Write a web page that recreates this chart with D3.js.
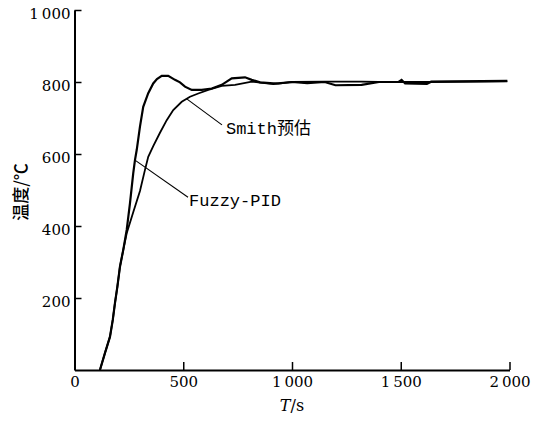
<!DOCTYPE html>
<html>
<head>
<meta charset="utf-8">
<script src="https://cdn.jsdelivr.net/npm/d3@7"></script>
<style>
  body { margin: 0; background: #fff; }
  #chart { width: 545px; height: 421px; }
</style>
</head>
<body>
<div id="chart"></div>
<script>

// time (s) / temperature (°C)
var fuzzyT = [117,140,163,176,186,197,209,224,240,255,270,278,286,301,316,339,362,379,401,431,462,485,508,539,585,631,677,723,784,815,853,914,937,1000,1070,1150,1200,1320,1400,1490,1504,1520,1620,1640,1990];
var fuzzyY = [0,47,92,139,186,231,287,333,389,463,546,583,611,676,731,769,796,808,817,817,806,799,787,778,778,782,792,810,813,806,799,796,796,800,797,800,791,792,800,800,806,796,795,801,803];

var smithT = [117,140,163,176,186,197,209,224,240,270,301,324,339,362,393,424,454,493,531,569,615,677,738,815,914,1000,1150,1320,1400,1500,1620,1990];
var smithY = [0,47,92,139,186,231,287,333,380,438,497,556,592,622,659,694,722,745,759,768,778,789,792,801,794,800,801,801,800,800,800,802];

var xTicks  = [0,500,1000,1500,2000];
var xLabels = ["0","500","1\u2009000","1\u2009500","2\u2009000"];
var yTicks  = [200,400,600,800,1000];
var yLabels = ["200","400","600","800","1\u2009000"];

// annotation: [curve point t, T, label t, T]
var fuzzyNote = [278,583,522,480];
var smithNote = [516,753,678,681];


var width  = 545;
var height = 421;

var x = d3.scaleLinear().domain([0,2000]).range([74.5,509.5]);
var y = d3.scaleLinear().domain([0,1000]).range([370,10]);

var svg = d3.select("#chart")
  .append("svg")
    .attr("width",width)
    .attr("height",height);

svg.append("rect")
  .attr("width",width)
  .attr("height",height)
  .attr("fill","#fff");

//......................... Axes ..............................
var xAxis = d3.axisBottom(x)
  .tickValues(xTicks)
  .tickSize(-8)
  .tickSizeOuter(0)
  .tickPadding(6)
  .tickFormat(function(d,i){return xLabels[i]});

var yAxis = d3.axisLeft(y)
  .tickValues(yTicks)
  .tickSize(-7)
  .tickSizeOuter(0)
  .tickPadding(4)
  .tickFormat(function(d,i){return yLabels[i]});

var gx = svg.append("g")
  .attr("transform","translate(0,"+y(0)+")")
  .call(xAxis);

var gy = svg.append("g")
  .attr("transform","translate("+x(0)+",0)")
  .call(yAxis);

[gx,gy].forEach(function(g){
  g.select(".domain").attr("stroke","#000").attr("stroke-width",2);
  g.selectAll(".tick line").attr("stroke","#000").attr("stroke-width",1.5);
  g.selectAll(".tick text")
    .attr("fill","#000")
    .style("font-family","'DejaVu Serif', serif")
    .style("font-size","15px");
});
gy.selectAll(".tick text").attr("dy","0.55em");
//-------------------------------------------------------------


//......................... Axis titles .......................
svg.append("text")
  .attr("x",292)
  .attr("y",411)
  .attr("text-anchor","middle")
  .style("font-family","'DejaVu Serif', serif")
  .style("font-size","16px")
  .html("<tspan font-style='italic'>T</tspan>/s");

svg.append("text")
  .attr("transform","translate(27,192) rotate(-90)")
  .attr("text-anchor","middle")
  .style("font-family","'Noto Sans CJK SC', sans-serif")
  .style("font-size","17px")
  .style("font-weight","500")
  .text("温度/℃");
//-------------------------------------------------------------


//......................... Curves ............................
var line = d3.line()
  .x(function(d){return x(d[0])})
  .y(function(d){return y(d[1])});

svg.append("path")
  .attr("d",line(d3.zip(smithT,smithY)))
  .attr("fill","none")
  .attr("stroke","#000")
  .attr("stroke-width",1.8);

svg.append("path")
  .attr("d",line(d3.zip(fuzzyT,fuzzyY)))
  .attr("fill","none")
  .attr("stroke","#000")
  .attr("stroke-width",2.2);
//-------------------------------------------------------------


//......................... Labels ............................
function note(n,txt,dx){
  svg.append("line")
    .attr("x1",x(n[0])).attr("y1",y(n[1]))
    .attr("x2",x(n[2])).attr("y2",y(n[3]))
    .attr("stroke","#000")
    .attr("stroke-width",1.1);
  svg.append("text")
    .attr("x",x(n[2])+dx)
    .attr("y",y(n[3])+9)
    .style("font-family","'Liberation Mono', 'Noto Sans CJK SC', monospace")
    .style("font-size","17px")
    .text(txt);
}
note(fuzzyNote,"Fuzzy-PID",1);
note(smithNote,"Smith预估",4);

</script>
</body>
</html>
